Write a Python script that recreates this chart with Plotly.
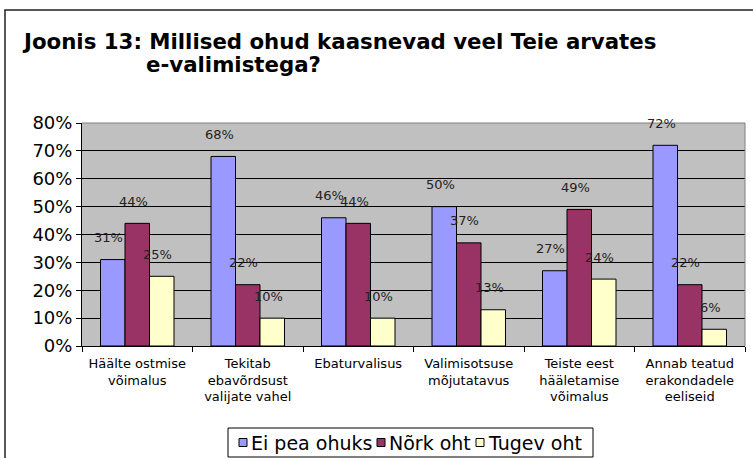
import plotly.graph_objects as go

# Kategooriad ja väärtused (osakaal vastanutest)
kategooriad = [
    "Häälte ostmise<br>võimalus",
    "Tekitab<br>ebavõrdsust<br>valijate vahel",
    "Ebaturvalisus",
    "Valimisotsuse<br>mõjutatavus",
    "Teiste eest<br>hääletamise<br>võimalus",
    "Annab teatud<br>erakondadele<br>eeliseid",
]
ei_pea_ohuks = [0.31, 0.68, 0.46, 0.50, 0.27, 0.72]
nork_oht = [0.44, 0.22, 0.44, 0.37, 0.49, 0.22]
tugev_oht = [0.25, 0.10, 0.10, 0.13, 0.24, 0.06]

seeriad = [
    ("Ei pea ohuks", ei_pea_ohuks, "#9999FF"),
    ("Nõrk oht", nork_oht, "#993366"),
    ("Tugev oht", tugev_oht, "#FFFFCC"),
]

W, H = 753, 458
L, R, T, B = 82, 8, 123, 112
pw, ph = W - L - R, H - T - B
bargap = 0.335
bw = pw / len(kategooriad) * (1 - bargap) / len(seeriad)


def px_x(x):
    return (x - L) / pw


def px_y(y):
    return (H - B - y) / ph


fig = go.Figure()
for nimi, vaartused, varv in seeriad:
    fig.add_trace(go.Bar(
        x=kategooriad, y=vaartused, name=nimi, showlegend=False,
        marker=dict(color=varv, line=dict(color="black", width=1)),
    ))

# andmesildid (Exceli moodi veidi tulba kohal)
annots = []
for i, (nimi, vaartused, varv) in enumerate(seeriad):
    for k, v in zip(kategooriad, vaartused):
        annots.append(dict(
            x=k, y=v, xref="x", yref="y", text=f"{round(v * 100)}%",
            showarrow=False, xshift=(i - 1) * bw - 4, yshift=22,
            font=dict(family="DejaVu Sans", size=13, color="#222"),
        ))

# pealkiri kahel real
annots.append(dict(
    x=px_x(20), y=px_y(41), xref="paper", yref="paper", xanchor="left", yanchor="middle",
    text="<b>Joonis 13: Millised ohud kaasnevad veel Teie arvates</b>", showarrow=False,
    font=dict(family="DejaVu Sans", size=21.3, color="black"),
))
annots.append(dict(
    x=px_x(144), y=px_y(65), xref="paper", yref="paper", xanchor="left", yanchor="middle",
    text="<b>e-valimistega?</b>", showarrow=False,
    font=dict(family="DejaVu Sans", size=21.3, color="black"),
))

shapes = [
    # välisraam
    dict(type="rect", xref="paper", yref="paper",
         x0=px_x(5), x1=1.3, y0=-1.0, y1=px_y(10),
         line=dict(color="#222", width=1.5), layer="below"),
    # joonisala ülemine ja parem serv
    dict(type="line", xref="paper", yref="paper", x0=0, x1=1, y0=1, y1=1,
         line=dict(color="#808080", width=1)),
    dict(type="line", xref="paper", yref="paper", x0=1, x1=1, y0=0, y1=1,
         line=dict(color="#808080", width=1)),
    # legendi kast
    dict(type="rect", xref="paper", yref="paper",
         x0=px_x(228), x1=px_x(593), y0=px_y(457), y1=px_y(428),
         line=dict(color="black", width=1), fillcolor="white"),
]

# legend käsitsi, et see oleks sama kompaktne kui Excelis
leg_x = [239, 377, 476]
for (nimi, vaartused, varv), lx in zip(seeriad, leg_x):
    shapes.append(dict(
        type="rect", xref="paper", yref="paper",
        x0=px_x(lx), x1=px_x(lx + 8), y0=px_y(446.5), y1=px_y(438.5),
        line=dict(color="black", width=1), fillcolor=varv,
    ))
    annots.append(dict(
        x=px_x(lx + 10), y=px_y(443), xref="paper", yref="paper",
        xanchor="left", yanchor="middle", text=nimi, showarrow=False,
        font=dict(family="DejaVu Sans", size=19, color="black"),
    ))

fig.update_layout(
    width=W, height=H,
    margin=dict(l=L, r=R, t=T, b=B, autoexpand=False),
    paper_bgcolor="white", plot_bgcolor="#C0C0C0",
    barmode="group", bargap=bargap, bargroupgap=0,
    annotations=annots,
    shapes=shapes,
    showlegend=False,
)

fig.update_yaxes(
    range=[0, 0.8], dtick=0.1, tickformat=".0%",
    showgrid=True, gridcolor="black", gridwidth=1,
    showline=True, linecolor="black", linewidth=1,
    ticks="outside", ticklen=5, tickcolor="black",
    tickfont=dict(family="DejaVu Sans", size=18, color="black"),
    zeroline=False, automargin=False,
)
fig.update_xaxes(
    showline=True, linecolor="black", linewidth=1,
    ticks="outside", ticklen=5, tickcolor="black", tickson="boundaries",
    tickfont=dict(family="DejaVu Sans", size=13, color="black"),
    tickangle=0, automargin=False, ticklabelstandoff=5,
)

# lehe vaikimisi 8px ääris ära, et joonis algaks nurgast
fig.write_html("out.html", config={"displayModeBar": False},
               post_script="document.body.style.margin='0px';")
